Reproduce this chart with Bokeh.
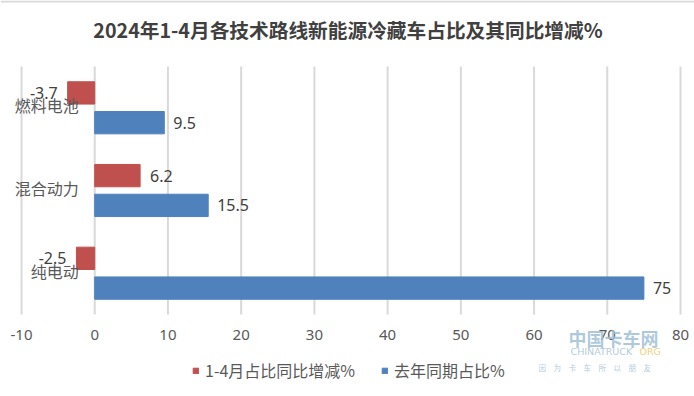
from bokeh.plotting import figure
from bokeh.models import (ColumnDataSource, Legend, LegendItem, Label, Range1d, Span)
from bokeh.embed import file_html
from bokeh.resources import INLINE
from bokeh.core.properties import value

# ---- data ----
categories = ["纯电动", "混合动力", "燃料电池"]
change_pct = [-2.5, 6.2, -3.7]          # 1-4月占比同比增减%
last_year_share = [75, 15.5, 9.5]       # 去年同期占比%
x_ticks = [-10, 0, 10, 20, 30, 40, 50, 60, 70, 80]
series_names = ["1-4月占比同比增减%", "去年同期占比%"]
title_text = "2024年1-4月各技术路线新能源冷藏车占比及其同比增减%"

RED = "#C0504D"
BLUE = "#4F81BD"
CJK = "Noto Sans CJK SC"
TXT = "#404040"
GRAY = "#595959"

W, H = 694, 396
BAR_OFF, BAR_H = 0.18, 0.27
X0, X1 = -12.868, 81.912
Y0, Y1 = -1.4909, 3.2975

y_pos = list(range(len(categories)))
src = ColumnDataSource(dict(
    cat=categories,
    y=y_pos,
    y_red=[y + BAR_OFF for y in y_pos],
    y_blue=[y - BAR_OFF for y in y_pos],
    y_cat=[y + 0.03 for y in y_pos],
    change=change_pct,
    last=last_year_share,
    zero=[0] * len(categories),
))

# the frame fills the whole canvas; scales map data -> pixels
p = figure(width=W, height=H, output_backend="svg", toolbar_location=None, title=None,
           x_range=Range1d(X0, X1), y_range=Range1d(Y0, Y1),
           min_border=0, min_border_left=0, min_border_right=0,
           min_border_top=0, min_border_bottom=0)
p.axis.visible = False
p.grid.visible = False
p.outline_line_color = None
p.background_fill_color = "white"
p.border_fill_color = "white"

# thin border line at the very top of the chart
p.add_layout(Span(location=Y1 - 1.0 * (Y1 - Y0) / H, dimension="width",
                  line_color="#D9D9D9", line_width=2))

# vertical gridlines spanning the category band
p.segment(x0=x_ticks, x1=x_ticks, y0=-0.5, y1=len(categories) - 0.5,
          line_color="#D9D9D9", line_width=2)

# bars
r_red = p.hbar(y="y_red", right="change", left=0, height=BAR_H, color=RED, source=src)
r_blue = p.hbar(y="y_blue", right="last", left=0, height=BAR_H, color=BLUE, source=src)

# x tick labels
p.text(x=x_ticks, y=[-0.747] * len(x_ticks), text=[str(t) for t in x_ticks],
       text_align="center", text_baseline="middle", text_font=value("Noto Sans"),
       text_font_size="15px", text_color=GRAY)

# data labels
pos = [i for i, v in enumerate(change_pct) if v >= 0]
neg = [i for i, v in enumerate(change_pct) if v < 0]
lab = dict(text_baseline="middle", text_font=value("Noto Sans"), text_font_size="16px",
           text_color=TXT)
p.text(x=[change_pct[i] for i in pos], y=[y_pos[i] + BAR_OFF for i in pos],
       text=[f"{change_pct[i]:g}" for i in pos], x_offset=10, text_align="left", **lab)
p.text(x=[change_pct[i] for i in neg], y=[y_pos[i] + BAR_OFF for i in neg],
       text=[f"{change_pct[i]:g}" for i in neg], x_offset=-10, text_align="right", **lab)
p.text(x=last_year_share, y=[y - BAR_OFF for y in y_pos],
       text=[f"{v:g}" for v in last_year_share], x_offset=9, text_align="left", **lab)

# category labels next to the zero line
p.text(x="zero", y="y_cat", text="cat", source=src, x_offset=-16, text_align="right",
       text_baseline="middle", text_font=value(CJK), text_font_size="16px", text_color=GRAY)

# title
p.add_layout(Label(x=347.5, y=367, x_units="screen", y_units="screen", text=title_text,
                   text_align="center", text_baseline="middle", text_font=CJK,
                   text_font_size="19.7px", text_font_style="bold", text_color=TXT))

# legend
legend = Legend(items=[LegendItem(label=series_names[0], renderers=[r_red]),
                       LegendItem(label=series_names[1], renderers=[r_blue])],
                orientation="horizontal", location=(192, 14),
                glyph_width=7, glyph_height=7, label_standoff=6, spacing=26,
                label_text_font=CJK, label_text_font_size="16px", label_text_color=GRAY,
                padding=5, margin=0, border_line_color=None, background_fill_alpha=0)
p.add_layout(legend)

# watermark (site logo text)
wm_color = "#9FBFD6"
p.add_layout(Label(x=568, y=58.5, x_units="screen", y_units="screen", text="中国卡车网",
                   text_font=CJK, text_font_size="18px", text_font_style="bold",
                   text_color=wm_color, text_alpha=0.85, text_baseline="middle"))
p.add_layout(Label(x=570, y=45, x_units="screen", y_units="screen", text="CHINATRUCK",
                   text_font="DejaVu Sans", text_font_size="9.5px",
                   text_color=wm_color, text_alpha=0.85, text_baseline="middle"))
p.add_layout(Label(x=639, y=45, x_units="screen", y_units="screen", text="ORG",
                   text_font="DejaVu Sans", text_font_size="9.5px",
                   text_color="#EDC96A", text_alpha=0.9, text_baseline="middle"))
p.add_layout(Label(x=538, y=29, x_units="screen", y_units="screen",
                   text="因\u3000为\u3000卡\u3000车\u3000所\u3000以\u3000朋\u3000友",
                   text_font=CJK, text_font_size="7.5px",
                   text_color=wm_color, text_alpha=0.85, text_baseline="middle"))

open("out.html", "w").write(file_html(p, INLINE))
